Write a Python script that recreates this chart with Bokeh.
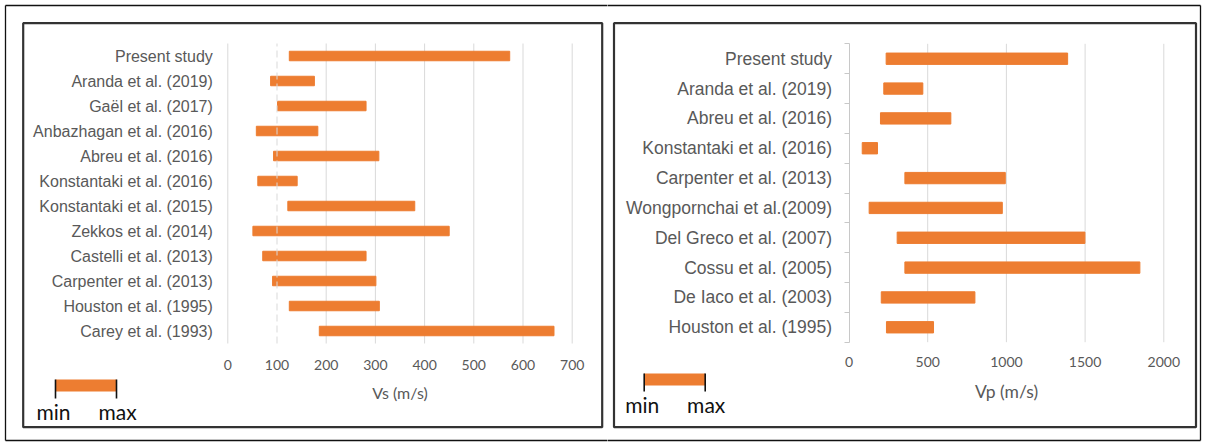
from bokeh.plotting import figure
from bokeh.layouts import row
from bokeh.models import Range1d, FixedTicker
from bokeh.core.properties import value
from bokeh.embed import file_html
from bokeh.resources import INLINE

# ---- shear-wave velocity ranges (m/s) ----
vs_studies = ["Present study", "Aranda et al. (2019)", "Gaël et al. (2017)",
              "Anbazhagan et al. (2016)", "Abreu et al. (2016)",
              "Konstantaki et al. (2016)", "Konstantaki et al. (2015)",
              "Zekkos et al. (2014)", "Castelli et al. (2013)",
              "Carpenter et al. (2013)", "Houston et al. (1995)",
              "Carey et al. (1993)"]
vs_min = [125, 87, 101, 58, 93, 61, 122, 51, 71, 91, 125, 186]
vs_max = [573, 176, 281, 183, 307, 141, 380, 450, 281, 301, 308, 663]
vs_ticks = [0, 100, 200, 300, 400, 500, 600, 700]

# ---- compression-wave velocity ranges (m/s) ----
vp_studies = ["Present study", "Aranda et al. (2019)", "Abreu et al. (2016)",
              "Konstantaki et al. (2016)", "Carpenter et al. (2013)",
              "Wongpornchai et al.(2009)", "Del Greco et al. (2007)",
              "Cossu et al. (2005)", "De Iaco et al. (2003)",
              "Houston et al. (1995)"]
vp_min = [236, 221, 200, 84, 355, 128, 306, 355, 205, 238]
vp_max = [1389, 469, 647, 181, 993, 974, 1499, 1848, 800, 537]
vp_ticks = [0, 500, 1000, 1500, 2000]

ORANGE = "#ED7D31"
TXT = "#595959"
GRID = "#d9d9d9"
LABEL_FONT = "Liberation Sans"
NUM_FONT = "Lato"
H = 445


def span_range(d0, p0, d1, p1, size):
    """Range whose ends sit on canvas pixels 0 and `size`, given two anchors."""
    k = (p1 - p0) / (d1 - d0)
    return Range1d(d0 + (0 - p0) / k, d0 + (size - p0) / k)


def span_range_y(d0, p0, d1, p1):
    """Same for a vertical axis whose pixels grow downwards."""
    k = (p1 - p0) / (d1 - d0)
    return Range1d(d0 + (H - p0) / k, d0 + (0 - p0) / k)


def range_panel(studies, lo, hi, xmax, ticks, width, area, cat_size,
                title_size, xlabel):
    """area = (x_left_px, x_right_px, y_top_px, y_bottom_px) of the bar region."""
    n = len(studies)
    ys = [n - i for i in range(n)]
    xl, xr, yt, yb = area
    p = figure(width=width, height=H, output_backend="svg",
               toolbar_location=None, min_border=0,
               x_range=span_range(0, xl, xmax, xr, width),
               y_range=span_range_y(n + 0.5, yt, 0.5, yb))
    p.extra_x_ranges = {"px": Range1d(0, width)}
    p.extra_y_ranges = {"px": Range1d(H, 0)}
    p.outline_line_color = None
    p.background_fill_color = "white"
    p.border_fill_color = "white"
    p.xgrid.visible = False
    p.ygrid.visible = False

    xa = p.xaxis[0]
    xa.fixed_location = 0.5
    xa.bounds = (0, xmax)
    xa.ticker = FixedTicker(ticks=ticks)
    xa.axis_line_color = None
    xa.major_tick_line_color = None
    xa.minor_tick_line_color = None
    xa.major_label_text_font = NUM_FONT
    xa.major_label_text_font_size = "14px"
    xa.major_label_text_color = TXT
    xa.major_label_standoff = 10
    xa.axis_label = xlabel
    xa.axis_label_text_font = NUM_FONT
    xa.axis_label_text_font_style = "normal"
    xa.axis_label_text_font_size = title_size
    xa.axis_label_text_color = TXT
    xa.axis_label_standoff = 10

    ya = p.yaxis[0]
    ya.fixed_location = 0
    ya.bounds = (0.5, n + 0.5)
    ya.ticker = FixedTicker(ticks=ys,
                            minor_ticks=[k + 0.5 for k in range(n + 1)])
    ya.major_label_overrides = {y: s for y, s in zip(ys, studies)}
    ya.major_tick_out = 0
    ya.major_tick_in = 0
    ya.major_tick_line_color = None
    ya.major_label_text_font = LABEL_FONT
    ya.major_label_text_font_size = cat_size
    ya.major_label_text_color = TXT
    return p, ys


def add_bars(p, ys, lo, hi, grid_ticks, n):
    p.segment(x0=grid_ticks, y0=[0.5] * len(grid_ticks), x1=grid_ticks,
              y1=[n + 0.5] * len(grid_ticks), line_color=GRID, line_width=1)
    p.hbar(y=ys, left=lo, right=hi, height=0.38, color=ORANGE)


def frame_lines(p, panel, outer_segments):
    l, r, t, b = panel
    p.quad(left=[l], right=[r], top=[t], bottom=[b], fill_color=None,
           line_color="#333333", line_width=2.2,
           x_range_name="px", y_range_name="px")
    x0, y0, x1, y1 = zip(*outer_segments)
    p.segment(x0=list(x0), y0=list(y0), x1=list(x1), y1=list(y1),
              line_color="#111111", line_width=1.3,
              x_range_name="px", y_range_name="px")


def min_max_key(p, x0, x1, ytop, ybar, ytick, ytext):
    p.quad(left=[x0], right=[x1], top=[ytop], bottom=[ybar],
           fill_color=ORANGE, line_color=None,
           x_range_name="px", y_range_name="px")
    p.segment(x0=[x0, x1], y0=[ytop, ytop], x1=[x0, x1], y1=[ytick, ytick],
              line_color="#111111", line_width=1.6,
              x_range_name="px", y_range_name="px")
    p.text(x=[x0 - 2, x1 + 1], y=[ytext, ytext], text=["min", "max"],
           text_align="center", text_baseline="alphabetic",
           text_font=value(NUM_FONT), text_font_size="21px",
           text_color="#111111", x_range_name="px", y_range_name="px")


# left panel: Vs
W1 = 607
p1, ys1 = range_panel(vs_studies, vs_min, vs_max, 700, vs_ticks, W1,
                      (227.3, 571.7, 43, 343), "16px", "16px", "Vs (m/s)")
add_bars(p1, ys1, vs_min, vs_max, [t for t in vs_ticks if t != 100],
         len(vs_studies))
p1.segment(x0=[100], y0=[0.5], x1=[100], y1=[len(vs_studies) + 0.5],
           line_color=GRID, line_width=1, line_dash="7 4")
p1.yaxis[0].axis_line_color = None
p1.yaxis[0].minor_tick_line_color = None
p1.yaxis[0].major_label_standoff = 11
frame_lines(p1, (22.7, 601.7, 22.7, 426.7),
            [(5, 5, W1 + 5, 5), (5, 440, W1 + 5, 440), (5, 5, 5, 440)])
min_max_key(p1, 55, 116, 379, 391, 398, 411)

# right panel: Vp
W2 = 598
p2, ys2 = range_panel(vp_studies, vp_min, vp_max, 2000, vp_ticks, W2,
                      (241.5, 556.3, 43.3, 341.7), "17.5px", "17.5px",
                      "Vp (m/s)")
add_bars(p2, ys2, vp_min, vp_max, vp_ticks[1:], len(vp_studies))
ya2 = p2.yaxis[0]
ya2.axis_line_color = "#c8c8c8"
ya2.minor_tick_line_color = "#c8c8c8"
ya2.minor_tick_out = 5
ya2.minor_tick_in = 0
ya2.major_label_standoff = 12
p2.xaxis[0].major_label_standoff = 9
frame_lines(p2, (6.5, 588.5, 22.7, 426.7),
            [(-5, 5, 593, 5), (-5, 440, 593, 440), (593, 5, 593, 440)])
min_max_key(p2, 36.7, 97.7, 373, 385, 391, 404)

page = row(p1, p2)
open("out.html", "w").write(file_html(page, INLINE))
